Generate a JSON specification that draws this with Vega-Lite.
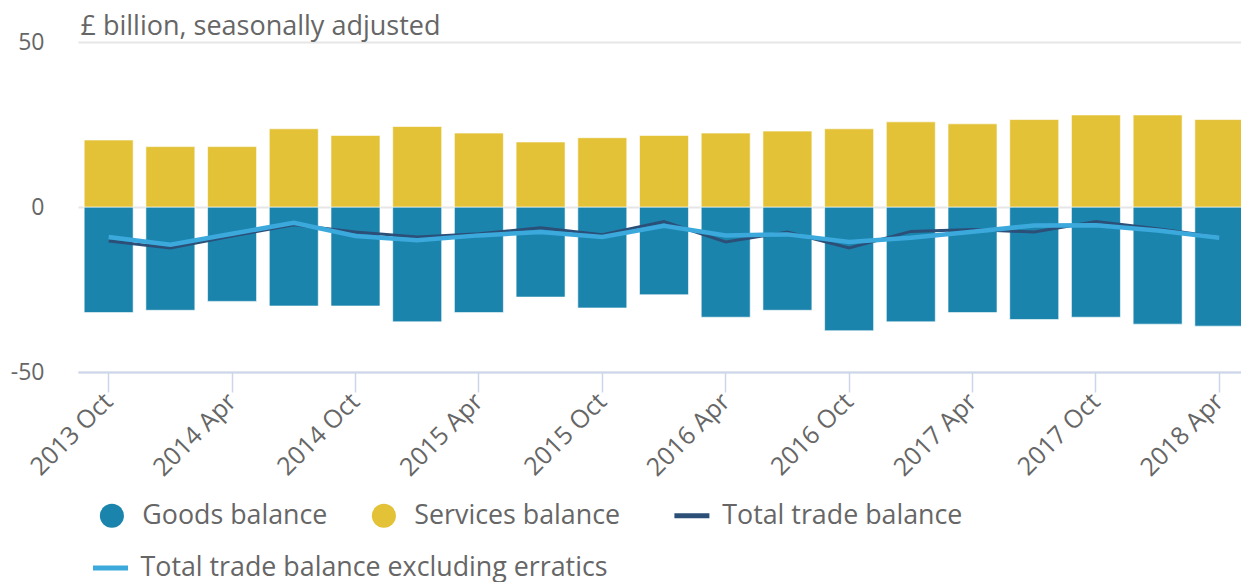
{
  "$schema": "https://vega.github.io/schema/vega-lite/v6.json",
  "width": 1163,
  "height": 330,
  "autosize": {"type": "none"},
  "padding": {"left": 78, "top": 42, "right": 0, "bottom": 210},
  "background": "#ffffff",
  "config": {
    "view": {"stroke": null},
    "font": "Open Sans",
    "axis": {"labelFont": "Open Sans", "titleFont": "Open Sans", "labelColor": "#666666", "titleColor": "#666666"},
    "legend": {"labelFont": "Open Sans"}
  },
  "data": {
    "values": [
      {"period": "2013 Oct", "series": "Goods balance", "value": -32.0},
      {"period": "2014 Jan", "series": "Goods balance", "value": -31.3},
      {"period": "2014 Apr", "series": "Goods balance", "value": -28.6},
      {"period": "2014 Jul", "series": "Goods balance", "value": -30.0},
      {"period": "2014 Oct", "series": "Goods balance", "value": -30.0},
      {"period": "2015 Jan", "series": "Goods balance", "value": -34.8},
      {"period": "2015 Apr", "series": "Goods balance", "value": -32.0},
      {"period": "2015 Jul", "series": "Goods balance", "value": -27.3},
      {"period": "2015 Oct", "series": "Goods balance", "value": -30.6},
      {"period": "2016 Jan", "series": "Goods balance", "value": -26.6},
      {"period": "2016 Apr", "series": "Goods balance", "value": -33.4},
      {"period": "2016 Jul", "series": "Goods balance", "value": -31.3},
      {"period": "2016 Oct", "series": "Goods balance", "value": -37.5},
      {"period": "2017 Jan", "series": "Goods balance", "value": -34.8},
      {"period": "2017 Apr", "series": "Goods balance", "value": -32.0},
      {"period": "2017 Jul", "series": "Goods balance", "value": -34.1},
      {"period": "2017 Oct", "series": "Goods balance", "value": -33.4},
      {"period": "2018 Jan", "series": "Goods balance", "value": -35.5},
      {"period": "2018 Apr", "series": "Goods balance", "value": -36.1},
      {"period": "2013 Oct", "series": "Services balance", "value": 20.3},
      {"period": "2014 Jan", "series": "Services balance", "value": 18.3},
      {"period": "2014 Apr", "series": "Services balance", "value": 18.3},
      {"period": "2014 Jul", "series": "Services balance", "value": 23.7},
      {"period": "2014 Oct", "series": "Services balance", "value": 21.7},
      {"period": "2015 Jan", "series": "Services balance", "value": 24.4},
      {"period": "2015 Apr", "series": "Services balance", "value": 22.4},
      {"period": "2015 Jul", "series": "Services balance", "value": 19.7},
      {"period": "2015 Oct", "series": "Services balance", "value": 21.0},
      {"period": "2016 Jan", "series": "Services balance", "value": 21.7},
      {"period": "2016 Apr", "series": "Services balance", "value": 22.4},
      {"period": "2016 Jul", "series": "Services balance", "value": 23.0},
      {"period": "2016 Oct", "series": "Services balance", "value": 23.7},
      {"period": "2017 Jan", "series": "Services balance", "value": 25.8},
      {"period": "2017 Apr", "series": "Services balance", "value": 25.2},
      {"period": "2017 Jul", "series": "Services balance", "value": 26.5},
      {"period": "2017 Oct", "series": "Services balance", "value": 27.9},
      {"period": "2018 Jan", "series": "Services balance", "value": 27.9},
      {"period": "2018 Apr", "series": "Services balance", "value": 26.5},
      {"period": "2013 Oct", "series": "Total trade balance", "value": -10.3},
      {"period": "2014 Jan", "series": "Total trade balance", "value": -12.4},
      {"period": "2014 Apr", "series": "Total trade balance", "value": -8.8},
      {"period": "2014 Jul", "series": "Total trade balance", "value": -5.4},
      {"period": "2014 Oct", "series": "Total trade balance", "value": -7.6},
      {"period": "2015 Jan", "series": "Total trade balance", "value": -9.1},
      {"period": "2015 Apr", "series": "Total trade balance", "value": -8.1},
      {"period": "2015 Jul", "series": "Total trade balance", "value": -6.3},
      {"period": "2015 Oct", "series": "Total trade balance", "value": -8.4},
      {"period": "2016 Jan", "series": "Total trade balance", "value": -4.4},
      {"period": "2016 Apr", "series": "Total trade balance", "value": -10.6},
      {"period": "2016 Jul", "series": "Total trade balance", "value": -7.6},
      {"period": "2016 Oct", "series": "Total trade balance", "value": -12.4},
      {"period": "2017 Jan", "series": "Total trade balance", "value": -7.4},
      {"period": "2017 Apr", "series": "Total trade balance", "value": -6.8},
      {"period": "2017 Jul", "series": "Total trade balance", "value": -7.6},
      {"period": "2017 Oct", "series": "Total trade balance", "value": -4.4},
      {"period": "2018 Jan", "series": "Total trade balance", "value": -6.6},
      {"period": "2018 Apr", "series": "Total trade balance", "value": -9.2},
      {"period": "2013 Oct", "series": "Total trade balance excluding erratics", "value": -9.1},
      {"period": "2014 Jan", "series": "Total trade balance excluding erratics", "value": -11.4},
      {"period": "2014 Apr", "series": "Total trade balance excluding erratics", "value": -8.1},
      {"period": "2014 Jul", "series": "Total trade balance excluding erratics", "value": -4.8},
      {"period": "2014 Oct", "series": "Total trade balance excluding erratics", "value": -8.8},
      {"period": "2015 Jan", "series": "Total trade balance excluding erratics", "value": -10.1},
      {"period": "2015 Apr", "series": "Total trade balance excluding erratics", "value": -8.6},
      {"period": "2015 Jul", "series": "Total trade balance excluding erratics", "value": -7.6},
      {"period": "2015 Oct", "series": "Total trade balance excluding erratics", "value": -9.1},
      {"period": "2016 Jan", "series": "Total trade balance excluding erratics", "value": -5.7},
      {"period": "2016 Apr", "series": "Total trade balance excluding erratics", "value": -8.6},
      {"period": "2016 Jul", "series": "Total trade balance excluding erratics", "value": -8.3},
      {"period": "2016 Oct", "series": "Total trade balance excluding erratics", "value": -10.6},
      {"period": "2017 Jan", "series": "Total trade balance excluding erratics", "value": -9.3},
      {"period": "2017 Apr", "series": "Total trade balance excluding erratics", "value": -7.5},
      {"period": "2017 Jul", "series": "Total trade balance excluding erratics", "value": -5.6},
      {"period": "2017 Oct", "series": "Total trade balance excluding erratics", "value": -5.5},
      {"period": "2018 Jan", "series": "Total trade balance excluding erratics", "value": -7.1},
      {"period": "2018 Apr", "series": "Total trade balance excluding erratics", "value": -9.3}
    ]
  },
  "encoding": {
    "x": {
      "field": "period",
      "type": "nominal",
      "sort": null,
      "scale": {"paddingInner": 0.206, "paddingOuter": 0.1, "range": [0, 1172]},
      "axis": {
        "title": null,
        "values": ["2013 Oct", "2014 Apr", "2014 Oct", "2015 Apr", "2015 Oct", "2016 Apr", "2016 Oct", "2017 Apr", "2017 Oct", "2018 Apr"],
        "labelAngle": -45,
        "labelAlign": "right",
        "labelBaseline": "middle",
        "labelFontSize": 25,
        "labelPadding": 5,
        "domainColor": "#ccd6eb",
        "domainWidth": 2,
        "tickColor": "#ccd6eb",
        "tickWidth": 1.5,
        "tickSize": 20,
        "grid": false
      }
    },
    "y": {
      "field": "value",
      "type": "quantitative",
      "scale": {"domain": [-50, 50], "nice": false},
      "axis": {
        "values": [-50, 0, 50],
        "labelExpr": "'' + datum.value",
        "title": "£ billion, seasonally adjusted",
        "titleAngle": 0,
        "titleAlign": "left",
        "titleBaseline": "alphabetic",
        "titleX": 2,
        "titleY": -8,
        "titleFontSize": 27,
        "titleFontWeight": "normal",
        "labelFontSize": 23,
        "labelPadding": 34,
        "labelBaseline": "middle",
        "domain": false,
        "ticks": false,
        "grid": true,
        "gridColor": "#e6e6e6",
        "gridWidth": 2
      }
    }
  },
  "layer": [
    {
      "transform": [{"filter": "datum.series === 'Goods balance' || datum.series === 'Services balance'"}],
      "mark": {"type": "bar", "stroke": "#ffffff", "strokeWidth": 1, "strokeOpacity": 0.6},
      "encoding": {
        "order": {"field": "series", "sort": "ascending"},
        "color": {
          "field": "series",
          "type": "nominal",
          "scale": {
            "domain": ["Goods balance", "Services balance", "Total trade balance"],
            "range": ["#1b84ad", "#e3c238", "#2c4f78"]
          },
          "legend": {
            "title": null,
            "orient": "none",
            "legendX": 20.5,
            "legendY": 460,
            "direction": "horizontal",
            "columnPadding": 43,
            "labelFontSize": 26.8,
            "labelColor": "#666666",
            "labelOffset": 17,
            "symbolSize": 1225,
            "labelLimit": 600,
            "encode": {
              "symbols": {
                "update": {
                  "shape": {"signal": "datum.index < 2 ? 'circle' : 'stroke'"},
                  "size": {"signal": "datum.index < 2 ? 580 : 1225"},
                  "fill": {"scale": "color", "field": "value"},
                  "stroke": {"scale": "color", "field": "value"},
                  "strokeWidth": {"signal": "datum.index < 2 ? 0 : 5"},
                  "opacity": {"value": 1},
                  "fillOpacity": {"value": 1},
                  "strokeOpacity": {"value": 1}
                }
              }
            }
          }
        }
      }
    },
    {
      "transform": [{"filter": "datum.series === 'Total trade balance'"}],
      "mark": {"type": "line", "strokeWidth": 3},
      "encoding": {
        "color": {
          "field": "series",
          "type": "nominal",
          "legend": {
            "title": null,
            "orient": "none",
            "legendX": 20.5,
            "legendY": 460,
            "direction": "horizontal",
            "columnPadding": 43,
            "labelFontSize": 26.8,
            "labelColor": "#666666",
            "labelOffset": 17,
            "symbolSize": 1225,
            "labelLimit": 600,
            "encode": {
              "symbols": {
                "update": {
                  "shape": {"signal": "datum.index < 2 ? 'circle' : 'stroke'"},
                  "size": {"signal": "datum.index < 2 ? 580 : 1225"},
                  "fill": {"scale": "color", "field": "value"},
                  "stroke": {"scale": "color", "field": "value"},
                  "strokeWidth": {"signal": "datum.index < 2 ? 0 : 5"},
                  "opacity": {"value": 1},
                  "fillOpacity": {"value": 1},
                  "strokeOpacity": {"value": 1}
                }
              }
            }
          }
        }
      }
    },
    {
      "transform": [{"filter": "datum.series === 'Total trade balance excluding erratics'"}],
      "mark": {"type": "line", "strokeWidth": 4.5},
      "encoding": {
        "stroke": {
          "field": "series",
          "type": "nominal",
          "scale": {"domain": ["Total trade balance excluding erratics"], "range": ["#3ba9dc"]},
          "legend": {
            "title": null,
            "orient": "none",
            "legendX": 12.5,
            "legendY": 506,
            "labelFontSize": 26.8,
            "labelColor": "#666666",
            "labelOffset": 10,
            "symbolSize": 1225,
            "labelLimit": 600,
            "encode": {
              "symbols": {
                "update": {
                  "shape": {"value": "stroke"},
                  "size": {"value": 1225},
                  "stroke": {"value": "#3ba9dc"},
                  "strokeWidth": {"value": 5},
                  "opacity": {"value": 1},
                  "strokeOpacity": {"value": 1}
                }
              }
            }
          }
        }
      }
    }
  ]
}
